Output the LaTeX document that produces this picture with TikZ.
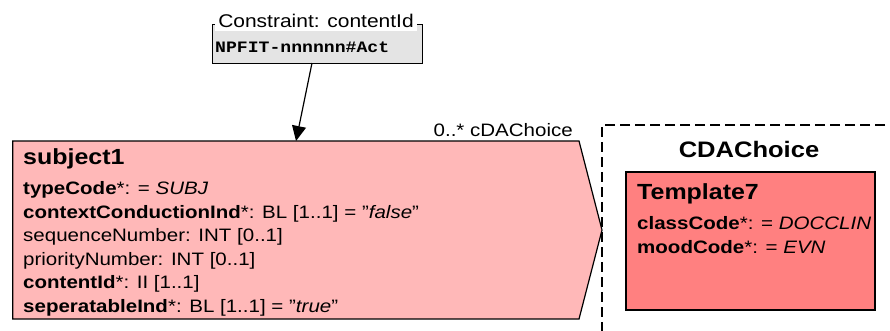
\documentclass[tikz,border=0pt]{standalone}
\usepackage{fontspec}
\setmainfont{Liberation Sans}[FakeStretch=1.14]
\setmonofont{Liberation Mono}[FakeStretch=1.14]
\usetikzlibrary{arrows.meta}
\definecolor{relfill}{HTML}{FFB8B8}
\definecolor{actfill}{HTML}{FF8080}
\definecolor{cgray}{HTML}{E4E4E4}
\begin{document}
\begin{tikzpicture}[x=1pt,y=-1pt,
  attr/.style={anchor=base west,inner sep=0pt,font=\fontsize{18}{20}\selectfont},
  ttl/.style={anchor=base west,inner sep=0pt,font=\fontsize{21.9}{24}\selectfont\bfseries},
  boxline/.style={draw=black,line width=1.2pt}]
\clip (0,0) rectangle (890,330);
% constraint box
\node[boxline, fill=cgray, minimum width=210pt, minimum height=39pt, anchor=north west, inner sep=0pt] (cbox) at (212,24) {};
\node[anchor=base, fill=white, inner xsep=3pt, inner ysep=0pt, text depth=4pt, font=\fontsize{18.4}{20}\selectfont] (clabel) at (316,27) {Constraint: contentId};
\node[anchor=base west, inner sep=0pt, font=\ttfamily\bfseries\fontsize{15.9}{18}\selectfont] (cval) at (215,52) {NPFIT-nnnnnn\#Act};
% pentagon (act relationship)
\draw[boxline, fill=relfill] (12.7,141) -- (579,141) -- (602,230) -- (579,319) -- (12.7,319) -- cycle;
\coordinate (astart) at (312,63);
\coordinate (aend) at (296,141);
\draw[line width=1.2pt, -{Triangle[length=15pt,width=14pt]}] (astart) -- (aend);
\node[ttl] (rtitle) at (23,164) {subject1};
\node[attr] (a1) at (23,194.5) {\textbf{typeCode}*: = \textit{SUBJ}};
\node[attr] (a2) at (23,218) {\textbf{contextConductionInd}*: BL [1..1] = "\textit{false}"};
\node[attr] (a3) at (23,241.5) {sequenceNumber: INT [0..1]};
\node[attr] (a4) at (23,265) {priorityNumber: INT [0..1]};
\node[attr] (a5) at (23,288.5) {\textbf{contentId}*: II [1..1]};
\node[attr] (a6) at (23,312) {\textbf{seperatableInd}*: BL [1..1] = "\textit{true}"};
\node[anchor=base east, inner sep=0pt, font=\fontsize{18}{20}\selectfont] (card) at (573,136) {0..* cDAChoice};
% choice box
\draw[line width=1.5pt, dash pattern=on 10pt off 5pt] (900,125) -- (602,125) -- (602,345);
\node[anchor=base, inner sep=0pt, font=\fontsize{22.4}{24}\selectfont\bfseries] (choice) at (749,157) {CDAChoice};
\node[draw=black, line width=1.5pt, fill=actfill, minimum width=249pt, minimum height=138pt, anchor=north west, inner sep=0pt] (tmpl) at (625,171) {};
\node[ttl] (ttitle) at (637,199) {Template7};
\node[attr] (t1) at (637,229) {\textbf{classCode}*: = \textit{DOCCLIN}};
\node[attr] (t2) at (637,253) {\textbf{moodCode}*: = \textit{EVN}};
\end{tikzpicture}
\end{document}
